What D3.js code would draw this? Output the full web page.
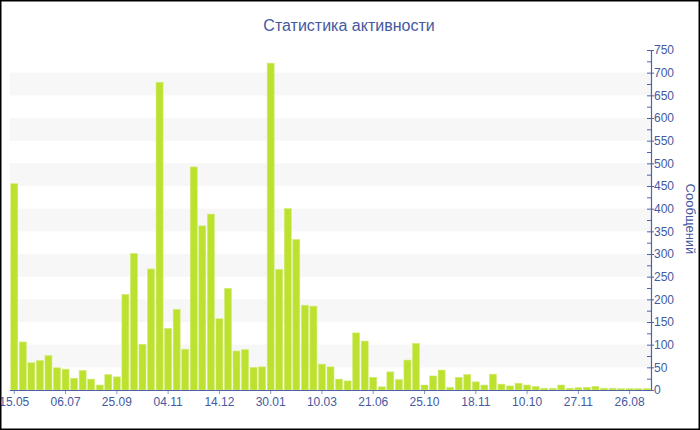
<!DOCTYPE html>
<html>
<head>
<meta charset="utf-8">
<script src="https://cdn.jsdelivr.net/npm/d3@7/dist/d3.min.js"></script>
<style>
html,body{margin:0;padding:0;background:#fff;}
svg{display:block;font-family:"Liberation Sans",Arial,sans-serif;}
</style>
</head>
<body>
<svg id="chart" width="700" height="430"></svg>
<script>
const title = "Статистика активности";
const yTitle = "Сообщений";
const values = [455,106,60,65,76,49,46,26,43,24,11,34,29,211,301,101,267,679,136,178,90,492,362,388,157,224,86,89,50,51,721,266,400,332,187,185,57,51,24,20,126,108,28,7,40,23,66,103,11,31,44,6,28,34,18,11,35,13,9,15,11,8,4,4,11,4,5,6,8,4,4,3,3,3,3];
const categories = values.map((d,i)=>i);
const tickLabels = ["15.05","06.07","25.09","04.11","14.12","30.01","10.03","21.06","25.10","18.11","10.10","27.11","26.08"];
const tickEvery = 6;
const yMax = 750;
const yTicks = d3.range(0, 751, 50);
const yMinorTicks = d3.range(25, 750, 50);
const bandStarts = d3.range(50, 700, 100);

(function(){
const svg = d3.select("#chart");
const pLeft = 10, pRight = 651, pTop = 50, pBottom = 390;
const textColor = "#4459a0", axisColor = "#4d63a8";

const x = d3.scaleBand().domain(categories).range([pLeft, pRight]).paddingInner(0.18).paddingOuter(0.09);
const y = d3.scaleLinear().domain([0, yMax]).range([pBottom, pTop]);

// background bands
svg.append("g").selectAll("rect").data(bandStarts).join("rect")
  .attr("x", pLeft).attr("width", pRight - pLeft)
  .attr("y", d => y(d + 50)).attr("height", d => y(d) - y(d + 50))
  .attr("fill", "#f7f7f7");

// bars
svg.append("g").selectAll("rect").data(values).join("rect")
  .attr("x", (d,i) => x(i)).attr("width", x.bandwidth())
  .attr("y", d => y(d)).attr("height", d => y(0) - y(d))
  .attr("fill", "#bde12f").attr("stroke", "#d2ec78").attr("stroke-width", 0.6);

// x axis
const tickCats = tickLabels.map((t,k) => k * tickEvery);
const xAxis = d3.axisBottom(x).tickValues(tickCats)
  .tickFormat(d => tickLabels[d / tickEvery]).tickSize(4).tickPadding(3);
const gx = svg.append("g").attr("transform", `translate(0,${pBottom})`).call(xAxis);
gx.select(".domain").remove();
gx.append("line").attr("x1", pLeft).attr("x2", pRight).attr("y1", 0.5).attr("y2", 0.5)
  .attr("stroke", axisColor).attr("stroke-width", 1.2);
gx.selectAll(".tick line").attr("stroke", "#8b96c0");
gx.selectAll(".tick text").attr("fill", textColor).attr("font-size", 12)
  .attr("font-family", "Liberation Sans, Arial, sans-serif");

// y axis (right)
const yAxis = d3.axisRight(y).tickValues(yTicks).tickSizeInner(4).tickSizeOuter(0).tickPadding(-1);
const gy = svg.append("g").attr("transform", `translate(${pRight},0)`).call(yAxis);
gy.select(".domain").attr("stroke", axisColor).attr("stroke-width", 1.2);
gy.selectAll(".tick line").attr("x1", -4).attr("x2", 3).attr("stroke", axisColor);
gy.selectAll(".tick text").attr("fill", textColor).attr("font-size", 12)
  .attr("font-family", "Liberation Sans, Arial, sans-serif").attr("x", 3);
gy.append("g").selectAll("line").data(yMinorTicks).join("line")
  .attr("x1", -4).attr("x2", 0).attr("y1", d => y(d) + 0.5).attr("y2", d => y(d) + 0.5)
  .attr("stroke", axisColor);

// titles
svg.append("text").attr("x", 349).attr("y", 31).attr("text-anchor", "middle")
  .attr("fill", textColor).attr("font-size", 16).text(title);
svg.append("text").attr("transform", `translate(686,219) rotate(90)`).attr("text-anchor", "middle")
  .attr("fill", textColor).attr("font-size", 13).text(yTitle);

// border
svg.append("rect").attr("x", 0.75).attr("y", 0.75).attr("width", 698.5).attr("height", 428.5)
  .attr("fill", "none").attr("stroke", "#000").attr("stroke-width", 1.5);
})();
</script>
</body>
</html>
